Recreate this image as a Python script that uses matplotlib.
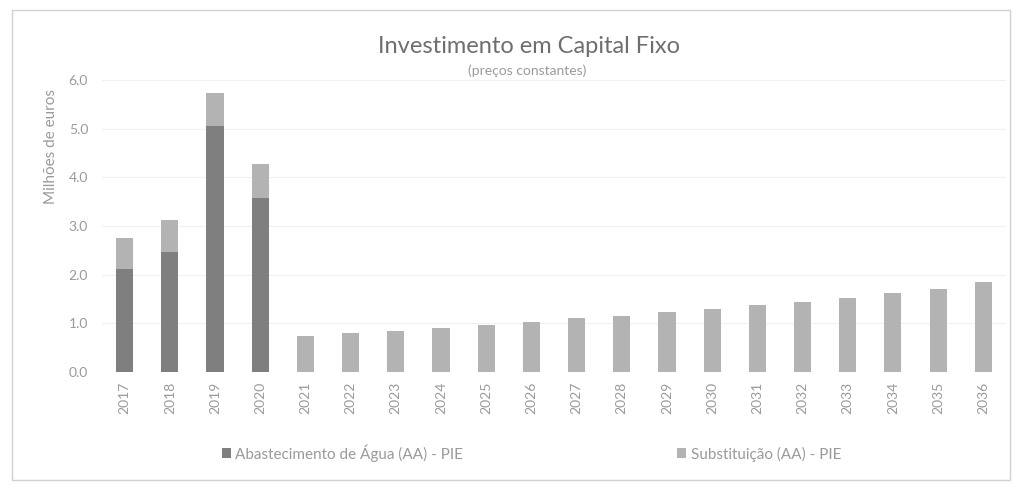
import numpy as np
import matplotlib.pyplot as plt
from matplotlib.patches import Rectangle

plt.rcParams['font.family'] = ['Lato', 'DejaVu Sans']

anos = [str(a) for a in range(2017, 2037)]
abastecimento = [2.12, 2.46, 5.05, 3.57] + [0] * 16
substituicao = [0.63, 0.66, 0.68, 0.70, 0.74, 0.80, 0.85, 0.90, 0.96, 1.03,
                1.11, 1.16, 1.23, 1.29, 1.37, 1.44, 1.52, 1.62, 1.70, 1.85]
nome_aa = 'Abastecimento de Água (AA) - PIE'
nome_sub = 'Substituição (AA) - PIE'

cor_escura = '#7f7f7f'
cor_clara = '#b3b3b3'
cor_texto = '#9a9a9a'

fig = plt.figure(figsize=(10.14, 4.88), dpi=100)
ax = fig.add_axes([0.1006, 0.2377, 0.8914, 0.598])

x = np.arange(len(anos))
ax.bar(x, abastecimento, width=0.38, color=cor_escura, label=nome_aa, zorder=2)
ax.bar(x, substituicao, width=0.38, bottom=abastecimento, color=cor_clara,
       label=nome_sub, zorder=2)

ax.set_xlim(-0.5, len(anos) - 0.5)
ax.set_ylim(0, 6)
ax.set_yticks(np.arange(0, 7, 1))
ax.set_yticklabels([f'{v:.1f}' for v in range(7)])
ax.set_xticks(x)
ax.set_xticklabels(anos, rotation=90)
ax.tick_params(length=0, colors=cor_texto, labelsize=10)
ax.tick_params(axis='y', pad=10)
ax.tick_params(axis='x', pad=7)
for s in ax.spines.values():
    s.set_visible(False)
ax.grid(axis='y', color='#f0f0f0', linewidth=0.8, zorder=0)

fig.text(0.050, 0.70, 'Milhões de euros', rotation=90, ha='center', va='center',
         fontsize=11, color=cor_texto)
fig.text(0.522, 0.905, 'Investimento em Capital Fixo', ha='center', va='center',
         fontsize=17, color='#6e6e6e')
fig.text(0.52, 0.855, '(preços constantes)', ha='center', va='center',
         fontsize=10, color=cor_texto)

fig.legend(loc='center', bbox_to_anchor=(0.524, 0.072), ncol=2, frameon=False,
           fontsize=11, labelcolor=cor_texto, handlelength=0.6, handleheight=0.6,
           handletextpad=0.3, columnspacing=14)

fig.patches.append(Rectangle((0.012, 0.016), 0.984, 0.964, transform=fig.transFigure,
                             fill=False, edgecolor='#d0d0d0', linewidth=1))

fig.savefig('out.png', dpi=100)
